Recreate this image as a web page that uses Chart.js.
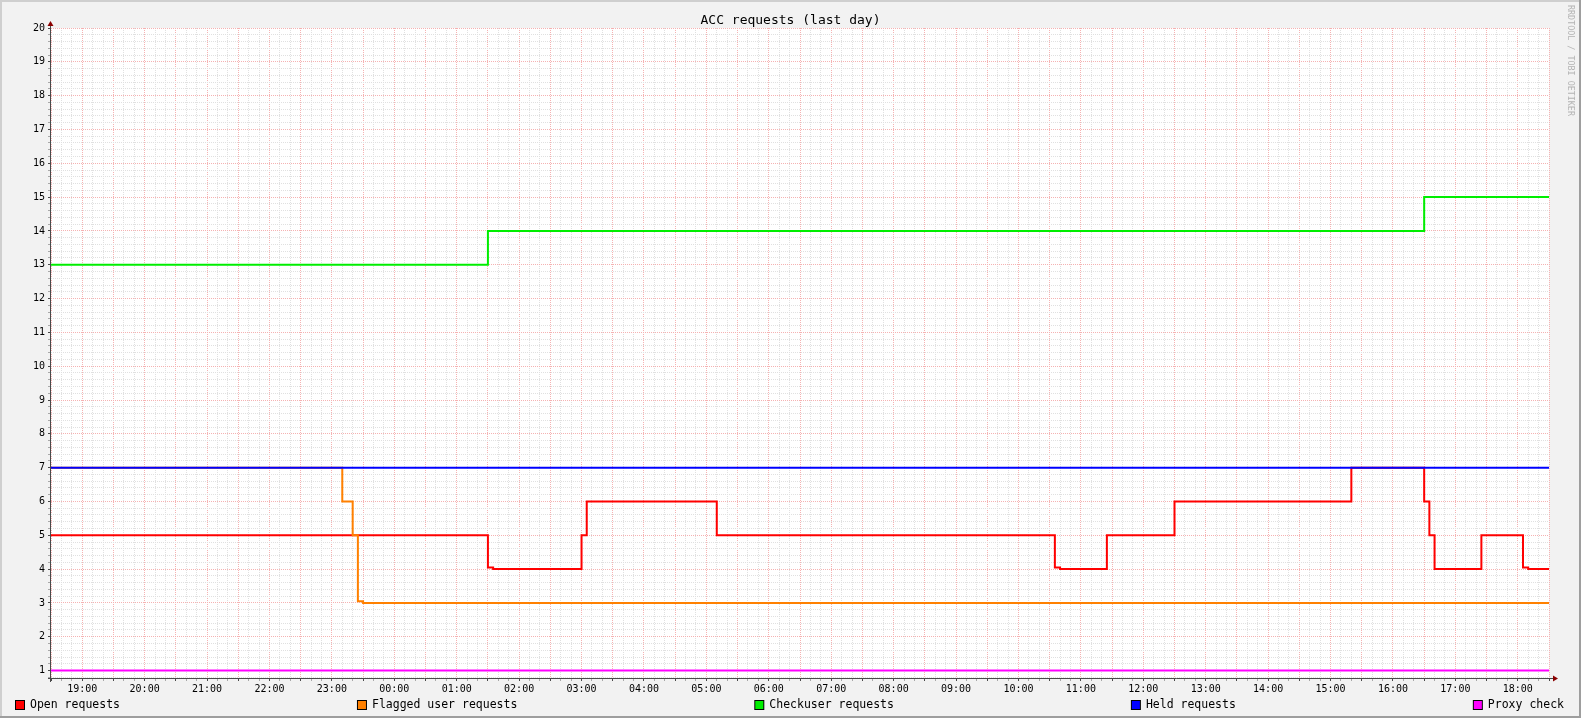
<!DOCTYPE html>
<html>
<head>
<meta charset="utf-8">
<title>ACC requests (last day)</title>
<script src="https://cdn.jsdelivr.net/npm/chart.js@4.4.1/dist/chart.umd.min.js"></script>
<style>
  html, body { margin: 0; padding: 0; background: #f2f2f2; }
  #wrap { width: 1581px; height: 718px; }
</style>
</head>
<body>
<div id="wrap"><canvas id="accChart" width="1581" height="718"></canvas></div>
<script>
// window is one day, 18:30 -> 18:30, values change on 5 minute steps
const chartTitle = 'ACC requests (last day)';
const seriesNames = ['Open requests', 'Flagged user requests', 'Checkuser requests', 'Held requests', 'Proxy check'];

const openTimes = ['18:30', '01:30', '01:35', '03:00', '03:05', '05:10', '10:35', '10:40', '11:25', '12:30', '15:20', '16:30', '16:35', '16:40', '17:25', '18:05', '18:10'];
const openValues = [5, 4.05, 4, 5, 6, 5, 4.05, 4, 5, 6, 7, 6, 5, 4, 5, 4.05, 4];

const flaggedTimes = ['18:30', '23:10', '23:20', '23:25', '23:30'];
const flaggedValues = [7, 6, 5, 3.05, 3];

const checkuserTimes = ['18:30', '01:30', '16:30'];
const checkuserValues = [13, 14, 15];

const heldTimes = ['18:30'];
const heldValues = [7];

const proxyTimes = ['18:30'];
const proxyValues = [1];

const yMin = 0.78;
const yMax = 20;

const MONO = '"DejaVu Sans Mono", "Liberation Mono", monospace';
const startMinute = 18 * 60 + 30;
const spanMinutes = 24 * 60;
const MAJOR = '#f5b2b2';
const MINOR = '#e0e0e0';

function toX(t) {
    const [h, m] = t.split(':').map(Number);
    let v = h * 60 + m - startMinute;
    if (v < 0) v += spanMinutes;
    return v;
}

function steps(times, values) {
    const pts = times.map((t, i) => ({ x: toX(t), y: values[i] }));
    pts.push({ x: spanMinutes, y: values[values.length - 1] });
    return pts;
}

function timeLabel(v) {
    const m = (startMinute + v) % spanMinutes;
    return String(Math.floor(m / 60)).padStart(2, '0') + ':' + String(m % 60).padStart(2, '0');
}

const isMajorX = v => Math.round(v) % 30 === 0;
const isInt = v => Math.abs(v - Math.round(v)) < 1e-6;

// 'before' = hold the value until the next point, then jump
const lineDefaults = { borderWidth: 2, pointRadius: 0, stepped: 'before', fill: false };

// lower order is drawn on top, like rrdtool drawing later lines over earlier ones
const datasets = [
    { label: seriesNames[0], data: steps(openTimes, openValues), borderColor: '#ff0000', backgroundColor: '#ff0000', order: 4 },
    { label: seriesNames[1], data: steps(flaggedTimes, flaggedValues), borderColor: '#ff8000', backgroundColor: '#ff8000', order: 3 },
    { label: seriesNames[2], data: steps(checkuserTimes, checkuserValues), borderColor: '#00ee00', backgroundColor: '#00ee00', order: 2 },
    { label: seriesNames[3], data: steps(heldTimes, heldValues), borderColor: '#0000ff', backgroundColor: '#0000ff', order: 1 },
    { label: seriesNames[4], data: steps(proxyTimes, proxyValues), borderColor: '#ff00ff', backgroundColor: '#ff00ff', order: 0 }
].map(d => Object.assign({}, lineDefaults, d));

// background, frame, axes with arrows, title, legend and the vertical credit
const rrdFrame = {
    id: 'rrdFrame',
    beforeDraw(chart) {
        const { ctx, width, height, chartArea: a } = chart;
        ctx.save();
        ctx.fillStyle = '#f2f2f2';
        ctx.fillRect(0, 0, width, height);
        ctx.fillStyle = '#cfcfcf';
        ctx.fillRect(0, 0, width, 2);
        ctx.fillRect(0, 0, 2, height);
        ctx.fillStyle = '#9e9e9e';
        ctx.fillRect(0, height - 2, width, 2);
        ctx.fillRect(width - 2, 0, 2, height);
        ctx.fillStyle = '#ffffff';
        ctx.fillRect(a.left, a.top, a.right - a.left, a.bottom - a.top);
        ctx.restore();
    },
    afterDraw(chart) {
        const { ctx, width, chartArea: a } = chart;
        ctx.save();

        // axes
        const ax = a.left - 0.5;
        const ay = a.bottom + 0.5;
        ctx.strokeStyle = '#4a4a4a';
        ctx.lineWidth = 1;
        ctx.beginPath();
        ctx.moveTo(ax, a.bottom + 4);
        ctx.lineTo(ax, a.top - 4);
        ctx.moveTo(a.left - 3, ay);
        ctx.lineTo(a.right + 4, ay);
        ctx.stroke();
        ctx.fillStyle = '#8b0000';
        ctx.beginPath();
        ctx.moveTo(ax - 3, a.top - 2);
        ctx.lineTo(ax + 3, a.top - 2);
        ctx.lineTo(ax, a.top - 7);
        ctx.closePath();
        ctx.fill();
        ctx.beginPath();
        ctx.moveTo(a.right + 4, ay - 3);
        ctx.lineTo(a.right + 4, ay + 3);
        ctx.lineTo(a.right + 9, ay);
        ctx.closePath();
        ctx.fill();

        // title
        ctx.fillStyle = '#000';
        ctx.font = '13px ' + MONO;
        ctx.textAlign = 'center';
        ctx.textBaseline = 'middle';
        ctx.fillText(chartTitle, width / 2, 21);

        // legend, justified across the width
        ctx.font = '11.5px ' + MONO;
        ctx.textAlign = 'left';
        const left = 15, right = 1564, box = 10, gapText = 15;
        const widths = chart.data.datasets.map(d => gapText + ctx.measureText(d.label).width);
        const total = widths.reduce((s, w) => s + w, 0);
        const gap = (right - left - total) / (widths.length - 1);
        let x = left;
        const ly = 705;
        chart.data.datasets.forEach((d, i) => {
            ctx.fillStyle = '#000';
            ctx.fillRect(x, ly - 5, box, box);
            ctx.fillStyle = d.borderColor;
            ctx.fillRect(x + 1, ly - 4, box - 2, box - 2);
            ctx.fillStyle = '#000';
            ctx.fillText(d.label, x + gapText, ly);
            x += widths[i] + gap;
        });

        // credit
        ctx.translate(1570, 5);
        ctx.rotate(Math.PI / 2);
        ctx.fillStyle = '#b4b4b4';
        ctx.font = '8.4px ' + MONO;
        ctx.textBaseline = 'middle';
        ctx.fillText('RRDTOOL / TOBI OETIKER', 0, 0);
        ctx.restore();
    }
};

const config = {
    type: 'line',
    data: { datasets: datasets },
    options: {
        responsive: false,
        animation: false,
        events: [],
        layout: { padding: { left: 0, right: 32, top: 28, bottom: 19 } },
        plugins: {
            legend: { display: false },
            tooltip: { enabled: false },
            title: { display: false }
        },
        scales: {
            x: {
                type: 'linear',
                min: 0,
                max: spanMinutes,
                afterFit: s => { s.height = 21; },
                ticks: {
                    stepSize: 10,
                    autoSkip: false,
                    maxRotation: 0,
                    minRotation: 0,
                    padding: 2,
                    color: '#000',
                    font: { family: MONO, size: 10 },
                    callback: v => (Math.round(v) % 60 === 30 ? timeLabel(Math.round(v)) : '')
                },
                grid: {
                    color: c => (isMajorX(c.tick.value) ? MAJOR : MINOR),
                    lineWidth: 1,
                    tickLength: 3,
                    tickColor: c => (isMajorX(c.tick.value) ? '#4a4a4a' : '#a8a8a8'),
                    tickBorderDash: []
                },
                border: { display: false, dash: [1, 1] }
            },
            y: {
                type: 'linear',
                min: yMin,
                max: yMax,
                afterFit: s => { s.width = 51; },
                ticks: {
                    stepSize: 0.2,
                    includeBounds: false,
                    autoSkip: false,
                    padding: 3,
                    color: '#000',
                    font: { family: MONO, size: 10 },
                    callback: v => (isInt(v) ? String(Math.round(v)) : '')
                },
                grid: {
                    color: c => (isInt(c.tick.value) ? MAJOR : MINOR),
                    lineWidth: 1,
                    tickLength: 3,
                    tickColor: c => (isInt(c.tick.value) ? '#4a4a4a' : '#a8a8a8'),
                    tickBorderDash: []
                },
                border: { display: false, dash: [1, 1] }
            }
        }
    },
    plugins: [rrdFrame]
};

const accChart = new Chart(document.getElementById('accChart').getContext('2d'), config);
</script>
</body>
</html>
